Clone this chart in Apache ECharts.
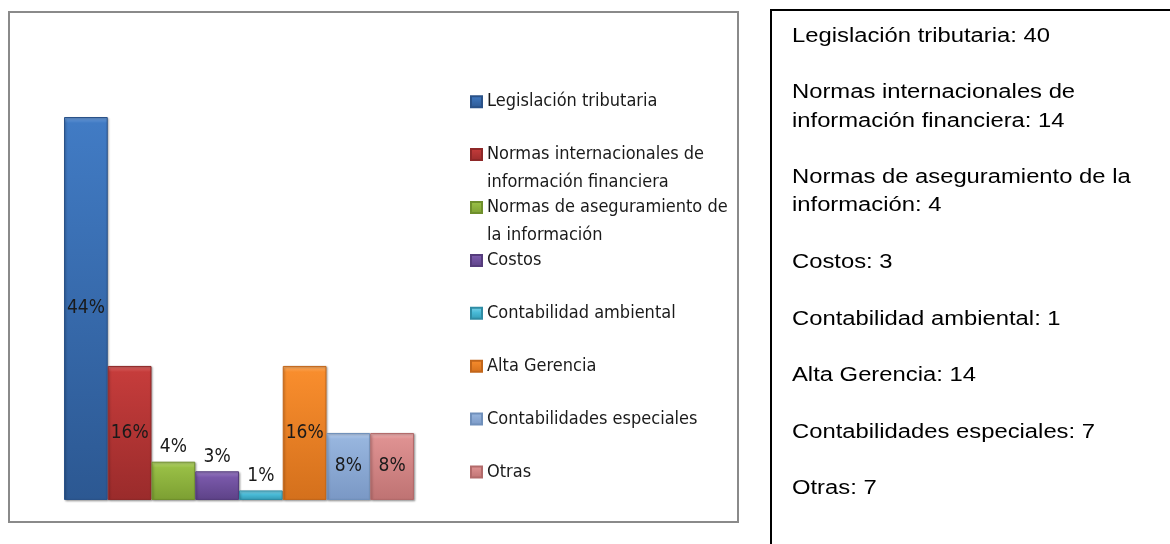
<!DOCTYPE html>
<html>
<head>
<meta charset="utf-8">
<script src="https://cdn.jsdelivr.net/npm/echarts@6/dist/echarts.min.js"></script>
<style>
    html, body { margin: 0; padding: 0; background: #fff; }
    #main { width: 1170px; height: 544px; }
</style>
</head>
<body>
<div id="main"></div>
<script>
// datos
var categories = [
    'Legislación tributaria',
    'Normas internacionales de información financiera',
    'Normas de aseguramiento de la información',
    'Costos',
    'Contabilidad ambiental',
    'Alta Gerencia',
    'Contabilidades especiales',
    'Otras'
];
var counts = [40, 14, 4, 3, 1, 14, 7, 7];

// colores: brillo, arriba, abajo, borde
var barColors = [
    ['#6f9fdc', '#417bc4', '#2c5892', '#2a5288'],
    ['#dc6a69', '#c53c3b', '#9a2b2b', '#8e2828'],
    ['#b9d873', '#98be45', '#7c9f32', '#6f8f2c'],
    ['#9f82c9', '#7958a9', '#5d4287', '#553c7c'],
    ['#7fd4ea', '#48bad6', '#3399b3', '#2f8ca4'],
    ['#fbb06a', '#f88d2d', '#d4701c', '#c2661a'],
    ['#bcd0ee', '#97b5de', '#7a98c5', '#7090bb'],
    ['#eeb5b5', '#de9191', '#bf7373', '#b26a6a']
];

var chartFont = "'Liberation Sans Narrow', 'DejaVu Sans Condensed', sans-serif";
var total = counts.reduce(function (a, b) { return a + b; }, 0);
var yMax = 40;
var plotH = 383; // alto del grid en px

// corta el texto en lineas de max caracteres
function wrap(str, max) {
    var words = str.split(' '), lines = [], cur = '';
    words.forEach(function (w) {
        if (cur && (cur + ' ' + w).length > max) {
            lines.push(cur);
            cur = w;
        } else {
            cur = cur ? cur + ' ' + w : w;
        }
    });
    lines.push(cur);
    return lines;
}

var L = 27.7;
var legends = categories.map(function (name, i) {
    var n = wrap(name, 26).length;
    var c = 100.7 + i * 52.9;
    return {
        data: [name],
        left: 470,
        top: c - 8,
        padding: 0,
        icon: 'rect',
        itemWidth: 11,
        itemHeight: 11,
        selectedMode: false,
        formatter: function (nm) {
            return wrap(nm, 26).map(function (l) { return '{t|' + l + '}'; }).join('\n');
        },
        textStyle: {
            padding: [(n - 1) * L, 0, 0, 0],
            rich: {
                t: { fontSize: 18, fontFamily: chartFont, lineHeight: L, color: '#1a1a1a' }
            }
        }
    };
});

var series = categories.map(function (name, i) {
    var h = counts[i] / yMax * plotH;
    var s = Math.min(0.45, 6 / h);
    return {
        name: name,
        type: 'bar',
        data: [counts[i]],
        barGap: '0%',
        barCategoryGap: '0%',
        itemStyle: {
            color: new echarts.graphic.LinearGradient(0, 0, 0, 1, [
                { offset: 0, color: barColors[i][0] },
                { offset: s, color: barColors[i][1] },
                { offset: 1, color: barColors[i][2] }
            ]),
            borderColor: barColors[i][3],
            borderWidth: 1,
            shadowBlur: 2,
            shadowOffsetX: 1,
            shadowOffsetY: 1,
            shadowColor: 'rgba(0,0,0,0.3)'
        },
        label: {
            show: true,
            position: counts[i] >= 7 ? 'inside' : 'top',
            distance: 5,
            fontSize: 19,
            fontFamily: chartFont,
            color: '#1a1a1a',
            formatter: function (p) {
                return Math.round(p.value / total * 100) + '%';
            }
        },
        emphasis: { disabled: true }
    };
});

var boxText = categories.map(function (name, i) {
    return wrap(name + ': ' + counts[i], 29).join('\n');
}).join('\n\n');

var option = {
    animation: false,
    backgroundColor: '#fff',
    grid: { left: 64, right: 756, top: 117, bottom: 544 - 117 - plotH },
    xAxis: { type: 'category', data: [''], show: false },
    yAxis: { type: 'value', min: 0, max: yMax, show: false },
    legend: legends,
    series: series,
    graphic: [
        {
            type: 'rect', silent: true, z: -1,
            shape: { x: 9, y: 12, width: 729, height: 510 },
            style: { fill: 'none', stroke: '#8a8a8a', lineWidth: 2 }
        },
        {
            type: 'rect', silent: true,
            shape: { x: 771, y: 10, width: 430, height: 560 },
            style: { fill: 'none', stroke: '#000', lineWidth: 2 }
        },
        {
            type: 'text', silent: true,
            x: 792, y: 22, scaleX: 1.19,
            style: {
                text: boxText,
                fontSize: 20,
                fontFamily: "'Liberation Sans', Arial, sans-serif",
                lineHeight: 28.3,
                fill: '#000'
            }
        }
    ]
};

var myChart = echarts.init(document.getElementById('main'));
myChart.setOption(option);
</script>
</body>
</html>
